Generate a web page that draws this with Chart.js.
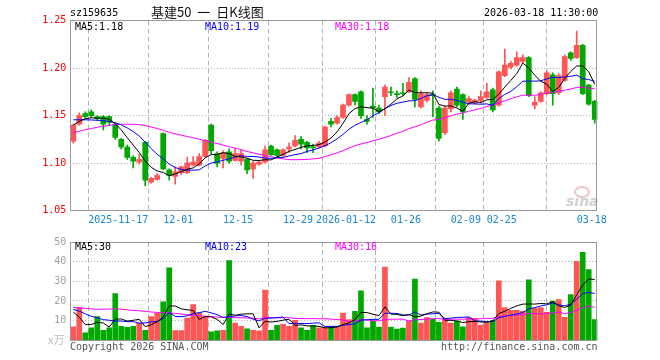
<!DOCTYPE html>
<html lang="zh-CN"><head><meta charset="utf-8"><title>基建50 日K线图</title>
<script src="https://cdn.jsdelivr.net/npm/chart.js@4.4.1/dist/chart.umd.min.js"></script>
<style>
html,body{margin:0;padding:0;background:#fff;}
#wrap{position:relative;width:660px;height:360px;overflow:hidden;background:#fff;}
#wrap canvas{position:absolute;left:0;}
.t{position:absolute;font-family:"DejaVu Sans Mono",monospace;font-size:10px;line-height:10px;white-space:pre;}
</style></head><body>
<div id="wrap">
 <div style="position:absolute;left:574px;top:186px;width:12px;height:8px;border:2px solid #f3c4c4;border-radius:50%"></div>
 <div style="position:absolute;left:566px;top:194px;font-family:'DejaVu Sans';font-style:italic;font-weight:bold;font-size:14px;line-height:14px;color:#d2d2d2">sina</div>
 <canvas id="pc" width="660" height="232" style="top:0;width:660px;height:232px"></canvas>
 <canvas id="vc" width="660" height="128" style="top:232px;width:660px;height:128px"></canvas>
 <div class="t" style="left:70px;top:8px;color:#000">sz159635</div>
 <div style="position:absolute;left:151px;top:5px;font-family:'Noto Sans CJK SC';font-size:13px;line-height:13px;color:#111;white-space:pre;word-spacing:3px">基建50 一 日K线图</div>
 <div class="t" style="left:484px;top:8px;color:#000">2026-03-18 11:30:00</div>
 <div class="t" style="left:75px;top:21.5px;color:#000">MA5:1.18</div>
 <div class="t" style="left:205px;top:21.5px;color:#0000ff">MA10:1.19</div>
 <div class="t" style="left:335px;top:21.5px;color:#ff00ff">MA30:1.18</div>
 <div class="t" style="left:75px;top:241.5px;color:#000">MA5:30</div>
 <div class="t" style="left:205px;top:241.5px;color:#0000ff">MA10:23</div>
 <div class="t" style="left:335px;top:241.5px;color:#ff00ff">MA30:16</div>
 <div class="t" style="left:48px;top:334px;color:#bbb;font-family:'Noto Sans CJK SC';font-size:11px;line-height:11px">x万</div>
 <div class="t" style="left:70px;top:341.5px;color:#555">Copyright 2026 SINA.COM</div>
 <div class="t" style="left:441px;top:341.5px;color:#555">http://finance.sina.com.cn</div>
</div>
<script>
const dates = ['2025-11-05','2025-11-06','2025-11-07','2025-11-10','2025-11-11','2025-11-12','2025-11-13','2025-11-14','2025-11-17','2025-11-18','2025-11-19','2025-11-20','2025-11-21','2025-11-24','2025-11-25','2025-11-26','2025-11-27','2025-11-28','2025-12-01','2025-12-02','2025-12-03','2025-12-04','2025-12-05','2025-12-08','2025-12-09','2025-12-10','2025-12-11','2025-12-12','2025-12-15','2025-12-16','2025-12-17','2025-12-18','2025-12-19','2025-12-22','2025-12-23','2025-12-24','2025-12-25','2025-12-26','2025-12-29','2025-12-30','2025-12-31','2026-01-05','2026-01-06','2026-01-07','2026-01-08','2026-01-09','2026-01-12','2026-01-13','2026-01-14','2026-01-15','2026-01-16','2026-01-19','2026-01-20','2026-01-21','2026-01-22','2026-01-23','2026-01-26','2026-01-27','2026-01-28','2026-01-29','2026-01-30','2026-02-02','2026-02-03','2026-02-04','2026-02-05','2026-02-06','2026-02-09','2026-02-10','2026-02-11','2026-02-12','2026-02-13','2026-02-24','2026-02-25','2026-02-26','2026-02-27','2026-03-02','2026-03-03','2026-03-04','2026-03-05','2026-03-06','2026-03-09','2026-03-10','2026-03-11','2026-03-12','2026-03-13','2026-03-16','2026-03-17','2026-03-18'];

const openP  = [1.123,1.141,1.152,1.154,1.149,1.149,1.149,1.141,1.125,1.117,1.106,1.101,1.122,1.080,1.083,1.131,1.093,1.086,1.090,1.090,1.098,1.098,1.107,1.140,1.110,1.105,1.112,1.103,1.102,1.104,1.094,1.099,1.101,1.118,1.114,1.108,1.115,1.118,1.125,1.122,1.117,1.117,1.118,1.144,1.142,1.148,1.161,1.172,1.175,1.146,1.160,1.158,1.170,1.175,1.173,1.174,1.175,1.189,1.159,1.166,1.172,1.158,1.132,1.157,1.178,1.172,1.164,1.163,1.166,1.169,1.177,1.161,1.192,1.201,1.203,1.207,1.211,1.161,1.165,1.173,1.193,1.174,1.187,1.216,1.211,1.224,1.182,1.165];
const highP  = [1.141,1.153,1.154,1.156,1.150,1.150,1.150,1.142,1.126,1.119,1.108,1.109,1.123,1.085,1.089,1.132,1.094,1.096,1.097,1.106,1.107,1.110,1.125,1.141,1.112,1.113,1.115,1.115,1.114,1.105,1.102,1.103,1.118,1.119,1.115,1.115,1.121,1.129,1.128,1.123,1.120,1.123,1.139,1.147,1.150,1.162,1.173,1.173,1.176,1.150,1.179,1.161,1.182,1.180,1.176,1.184,1.190,1.190,1.176,1.174,1.176,1.160,1.160,1.176,1.180,1.173,1.170,1.167,1.176,1.184,1.179,1.197,1.220,1.207,1.217,1.214,1.212,1.170,1.175,1.197,1.195,1.194,1.214,1.217,1.239,1.225,1.183,1.166];
const lowP   = [1.121,1.140,1.147,1.148,1.145,1.135,1.140,1.125,1.115,1.104,1.095,1.099,1.076,1.079,1.082,1.093,1.082,1.078,1.088,1.089,1.097,1.097,1.106,1.110,1.096,1.095,1.100,1.102,1.098,1.089,1.084,1.098,1.100,1.108,1.106,1.107,1.111,1.117,1.115,1.111,1.111,1.116,1.117,1.138,1.141,1.147,1.160,1.161,1.147,1.141,1.148,1.152,1.150,1.171,1.169,1.171,1.174,1.159,1.158,1.164,1.149,1.123,1.130,1.154,1.159,1.146,1.162,1.162,1.163,1.168,1.154,1.160,1.191,1.199,1.202,1.205,1.170,1.157,1.164,1.172,1.161,1.172,1.186,1.208,1.210,1.172,1.161,1.142];
const closeP = [1.140,1.150,1.149,1.150,1.147,1.141,1.143,1.127,1.117,1.106,1.102,1.104,1.082,1.084,1.087,1.094,1.087,1.091,1.096,1.100,1.101,1.107,1.124,1.113,1.100,1.111,1.102,1.110,1.110,1.093,1.100,1.101,1.114,1.109,1.108,1.114,1.117,1.124,1.120,1.116,1.116,1.121,1.138,1.141,1.148,1.161,1.172,1.165,1.150,1.144,1.158,1.154,1.180,1.174,1.172,1.173,1.185,1.167,1.173,1.172,1.171,1.126,1.158,1.174,1.161,1.154,1.168,1.166,1.170,1.175,1.156,1.196,1.203,1.205,1.211,1.211,1.171,1.164,1.174,1.195,1.173,1.192,1.212,1.210,1.224,1.173,1.162,1.146];
const volume = [6.8,16.8,3.8,6.3,12.1,5.1,6.3,23.8,7.1,6.6,7.1,8.8,5.1,12.1,13.8,19.6,36.8,4.9,4.9,11.3,18.2,13.8,12.1,4.3,4.8,5.1,40.6,8.8,7.1,5.8,5.1,4.8,25.6,5.1,7.6,8.1,7.1,10.1,6.3,5.1,7.6,6.3,6.3,6.8,6.8,13.8,10.5,14.7,25.2,6.3,9.7,6.7,37.2,6.7,5.7,6.2,9.8,31.2,8.8,11.5,10.8,9.2,10.5,8.8,9.8,6.8,11.5,11,7.7,9,10.2,30.2,16.7,15.2,15.2,14.7,30.7,16.3,16.7,14.2,20,20.7,11.7,23.2,40.2,44.7,36,10.6];

// moving-average values before the window has enough bars
const ma5Head  = [1.140,1.144,1.1466,1.1477];
const ma10Head = [1.1456,1.1456,1.1456,1.1454,1.1451,1.1446,1.1437,1.1425,1.1404];
const ma30Head = [1.1320,1.1335,1.1351,1.1364,1.1377,1.1388,1.1398,1.1406,1.1409,1.1409,1.1409,1.1404,1.1395,1.1381,1.1364,1.1346,1.1325,1.1309,1.1294,1.1280,1.1267,1.1252,1.1236,1.1220,1.1207,1.1189,1.1173,1.1157,1.1142];
const vma5Head  = [14.3,11.8,8,8];
const vma10Head = [15.7,14.8,13.5,12.2,11.5,10.5,10.2,9.8,9.8];
const vma30Head = [16.8,16.5,16.2,16,15.7,15.8,15.9,16,15.8,15.5,15.2,15,14.7,14.4,14.2,14,13.9,13.7,13.4,13,12.7,12.5,12.3,12.1,11.8,11.7,11.6,11.5,11.5];

const tickDates  = ['2025-11-17','2025-12-01','2025-12-15','2025-12-29','2026-01-12','2026-01-26','2026-02-09','2026-02-25','2026-03-18'];
const tickLabels = ['2025-11-17','12-01','12-15','12-29','2026-01-12','01-26','02-09','02-25','03-18'];
const priceTicks = [1.05,1.10,1.15,1.20,1.25];
const volTicks   = [0,10,20,30,40,50];

const UP = '#ff5555', DOWN = '#00a800';
const N = dates.length;
function movingAvg(vals, n, head){
  return vals.map((v,i)=> i < n-1 ? head[i] : vals.slice(i-n+1,i+1).reduce((a,b)=>a+b,0)/n);
}
const ma5 = movingAvg(closeP,5,ma5Head), ma10 = movingAvg(closeP,10,ma10Head), ma30 = movingAvg(closeP,30,ma30Head);
const vma5 = movingAvg(volume,5,vma5Head), vma10 = movingAvg(volume,10,vma10Head), vma30 = movingAvg(volume,30,vma30Head);
const colorOf = dates.map((d,i)=> closeP[i] >= openP[i] ? UP : DOWN);
const tickIdx = tickDates.map(d => dates.indexOf(d));
const pt = (arr) => arr.map((v,i)=>({x:i+0.5,y:v}));

const MONO = 'DejaVu Sans Mono';
const framePlugin = { id:'frame', afterDraw(chart){
  const {ctx, chartArea:a} = chart; ctx.save();
  ctx.strokeStyle = '#9a9a9a'; ctx.lineWidth = 1;
  const l = Math.floor(a.left)+0.5, t = Math.floor(a.top)+0.5, r = Math.floor(a.right)-0.5, b = Math.floor(a.bottom)+0.5;
  ctx.strokeRect(l, t, r-l, b-t); ctx.restore();
}};
function lineDs(data, color){
  return {type:'line', data: pt(data), borderColor: color, borderWidth: 1, pointRadius: 0, tension: 0, fill: false};
}
function xScale(showLabels, h){
  return {
    type:'linear', min:0, max:N, offset:false,
    afterBuildTicks: s => { s.ticks = tickIdx.map(v=>({value:v})); },
    afterFit: s => { s.height = h; },
    grid: {color:'#b4b4b4', lineWidth:1, drawTicks:false},
    border: {display:false, dash:[5,3]},
    ticks: {display: showLabels, autoSkip:false, maxRotation:0, padding:4, color:'#1a88d8',
      font:{family:MONO, size:10},
      callback: (v) => { const k = tickIdx.indexOf(v); return k >= 0 ? tickLabels[k] : ''; }}
  };
}
Chart.defaults.animation = false;

new Chart(document.getElementById('pc'), {
  type:'bar',
  data:{ datasets:[
    lineDs(ma5,'#000000'), lineDs(ma10,'#0000ff'), lineDs(ma30,'#ff00ff'),
    {type:'bar', grouped:false, barThickness:5, borderWidth:0, minBarLength:1,
     data: dates.map((d,i)=>({x:i+0.5, y:[Math.min(openP[i],closeP[i]), Math.max(openP[i],closeP[i])]})),
     backgroundColor: colorOf},
    {type:'bar', grouped:false, barThickness:1, borderWidth:0,
     data: dates.map((d,i)=>({x:i+0.5, y:[lowP[i], highP[i]]})),
     backgroundColor: colorOf}
  ]},
  options:{
    responsive:false, animation:false, events:[],
    layout:{padding:{top:20.5,right:62.3,bottom:0,left:0}},
    plugins:{legend:{display:false}, tooltip:{enabled:false}},
    scales:{
      x: xScale(true, 232-210.7),
      y: {min:1.05, max:1.25,
        afterBuildTicks: s => { s.ticks = priceTicks.map(v=>({value:v})); },
        afterFit: s => { s.width = 70.3; },
        grid:{color:'#b4b4b4', lineWidth:1, drawTicks:false},
        border:{display:false, dash:[1,2]},
        ticks:{color:'#ff0000', padding:4, font:{family:MONO,size:10}, callback: v => Number(v).toFixed(2)}}
    }
  },
  plugins:[framePlugin]
});

new Chart(document.getElementById('vc'), {
  type:'bar',
  data:{ datasets:[
    lineDs(vma5,'#000000'), lineDs(vma10,'#0000ff'), lineDs(vma30,'#ff00ff'),
    {type:'bar', grouped:false, barThickness:5, borderWidth:0,
     data: volume.map((v,i)=>({x:i+0.5, y:v})), backgroundColor: colorOf}
  ]},
  options:{
    responsive:false, animation:false, events:[],
    layout:{padding:{top:8.7,right:62.3,bottom:0,left:0}},
    plugins:{legend:{display:false}, tooltip:{enabled:false}},
    scales:{
      x: xScale(false, 128-108.3),
      y: {min:0, max:50,
        afterBuildTicks: s => { s.ticks = volTicks.map(v=>({value:v})); },
        afterFit: s => { s.width = 70.3; },
        grid:{color:'#b4b4b4', lineWidth:1, drawTicks:false},
        border:{display:false, dash:[1,2]},
        ticks:{color:'#a0a0a0', padding:4, font:{family:MONO,size:10}, callback: v => v === 0 ? '' : String(v)}}
    }
  },
  plugins:[framePlugin]
});
</script>
</body></html>
